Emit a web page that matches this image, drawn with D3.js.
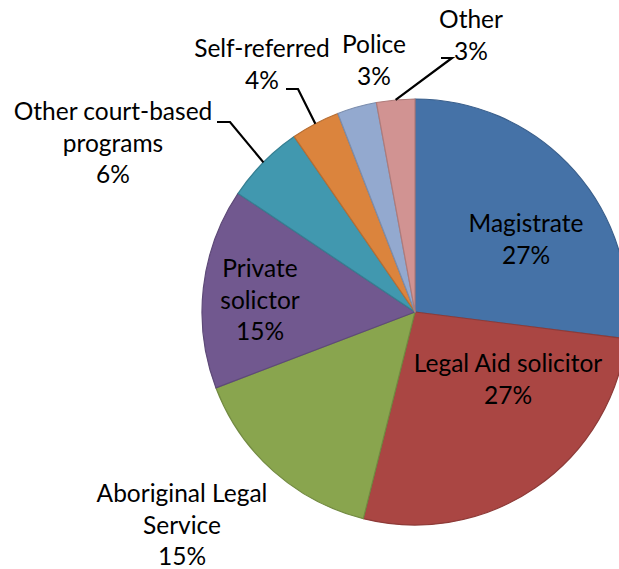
<!DOCTYPE html>
<html>
<head>
<meta charset="utf-8">
<script src="https://cdn.jsdelivr.net/npm/d3@7"></script>
<style>
  body { margin: 0; background: #fff; }
  text { font-family: Lato, "Open Sans", sans-serif; fill: #000; }
</style>
</head>
<body>
<div id="chart"></div>
<script>
// referral sources, share of cases (%)
const categories = ["Magistrate", "Legal Aid solicitor", "Aboriginal Legal Service", "Private solictor",
  "Other court-based programs", "Self-referred", "Police", "Other"];
const values = [27.0, 26.9, 15.3, 15.2, 6.0, 3.7, 3.0, 2.9];
const pctLabels = ["27%", "27%", "15%", "15%", "6%", "4%", "3%", "3%"];

const colors = ["#4572a7", "#aa4643", "#89a54e", "#71588f", "#4198af", "#db843d", "#93a9cf", "#d19392"];
const strokes = ["#3a5f8c", "#8e3b38", "#728a41", "#5e4a78", "#367f92", "#b76e33", "#7b8dad", "#af7b7a"];

const width = 619, height = 569;
const cx = 415, cy = 312, r = 213;

// label layout: anchor x, first baseline, optional leader elbow
const labelPos = [
  {x: 526, y: 232},
  {x: 508, y: 372},
  {x: 182, y: 502},
  {x: 260, y: 277},
  {x: 113, y: 120, elbow: [230, 122], end: [217, 122]},
  {x: 262, y: 57, elbow: [298, 89], end: [286, 89]},
  {x: 374, y: 53},
  {x: 471, y: 28, elbow: [452, 58], end: [441, 58]}
];
const labelLines = [
  ["Magistrate"], ["Legal Aid solicitor"], ["Aboriginal Legal", "Service"], ["Private", "solictor"],
  ["Other court-based", "programs"], ["Self-referred"], ["Police"], ["Other"]
];

const svg = d3.select("#chart").append("svg")
  .attr("width", width)
  .attr("height", height);

const pie = d3.pie().sort(null).value(d => d);
const arcs = pie(values);
const arc = d3.arc().innerRadius(0).outerRadius(r);

const g = svg.append("g").attr("transform", `translate(${cx},${cy})`);

g.selectAll("path")
  .data(arcs)
  .join("path")
    .attr("d", arc)
    .attr("fill", (d, i) => colors[i])
    .attr("stroke", (d, i) => strokes[i])
    .attr("stroke-width", 1.2)
    .attr("stroke-linejoin", "round");

// leader lines for the small slices
arcs.forEach((d, i) => {
  const p = labelPos[i];
  if (!p.elbow) return;
  const a = (d.startAngle + d.endAngle) / 2;
  const sx = cx + r * Math.sin(a), sy = cy - r * Math.cos(a);
  svg.append("polyline")
    .attr("points", [[sx, sy], p.elbow, p.end].map(q => q.join(",")).join(" "))
    .attr("fill", "none")
    .attr("stroke", "#000")
    .attr("stroke-width", 2.2);
});

const lineH = 31.5;
labelLines.forEach((lines, i) => {
  const p = labelPos[i];
  const t = svg.append("text")
    .attr("text-anchor", "middle")
    .attr("font-size", "24.5px");
  lines.concat([pctLabels[i]]).forEach((s, j) => {
    t.append("tspan")
      .attr("x", p.x)
      .attr("y", p.y + j * lineH)
      .text(s);
  });
});
</script>
</body>
</html>
